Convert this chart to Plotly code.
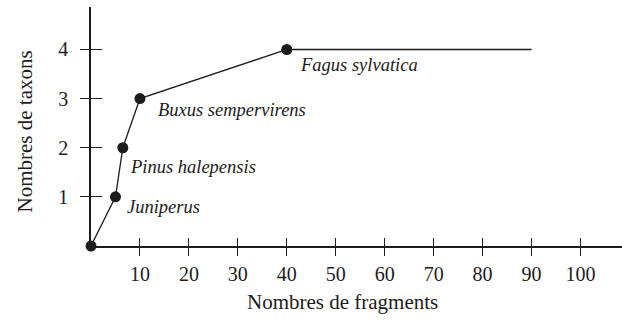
import plotly.graph_objects as go

# Accumulation curve: number of taxa vs number of charcoal fragments
fragments = [0, 5, 6.5, 10, 40, 90]
taxons = [0, 1, 2, 3, 4, 4]
taxon_names = ["", "Juniperus", "Pinus halepensis", "Buxus sempervirens", "Fagus sylvatica", ""]
x_ticks = [10, 20, 30, 40, 50, 60, 70, 80, 90, 100]
y_ticks = [1, 2, 3, 4]

INK = "#1e1b1c"
SERIF = "Liberation Serif"

W, H = 622, 320
L, R, T, B = 91, 0, 6.5, 73.5

# dots on every recorded step; the plateau end has no dot
marker_sizes = [11 if name or i == 0 else 0 for i, name in enumerate(taxon_names)]

fig = go.Figure()
fig.add_trace(go.Scatter(
    x=fragments, y=taxons, mode="lines+markers",
    line=dict(color=INK, width=1.3),
    marker=dict(color=INK, size=marker_sizes, opacity=1,
                line=dict(width=0)),
    cliponaxis=False, hoverinfo="skip", showlegend=False,
))
# invisible trace so the overlay axes (inner half of the crossing ticks) render
fig.add_trace(go.Scatter(x=[0], y=[0], xaxis="x2", yaxis="y2", mode="markers",
                         marker=dict(size=0, opacity=0), showlegend=False,
                         hoverinfo="skip"))

# label offsets (px) relative to each point
offsets = {
    "Juniperus": (9.5, -10.5),
    "Pinus halepensis": (5.5, -19),
    "Buxus sempervirens": (16.5, -11.5),
    "Fagus sylvatica": (11, -16),
}
annotations = []
for x, y, name in zip(fragments, taxons, taxon_names):
    if not name:
        continue
    dx, dy = offsets[name]
    annotations.append(dict(
        x=x, y=y, xref="x", yref="y", text=f"<i>{name}</i>", showarrow=False,
        xanchor="left", yanchor="middle", xshift=dx, yshift=dy,
        font=dict(family=SERIF, size=18.5, color=INK),
    ))

plot_w = W - L - R
plot_h = H - T - B
annotations.append(dict(
    text="Nombres de fragments", xref="paper", yref="paper",
    x=(342 - L) / plot_w, y=-(302.5 - (H - B)) / plot_h,
    xanchor="center", yanchor="middle", showarrow=False,
    font=dict(family=SERIF, size=21, color=INK),
))
annotations.append(dict(
    text="Nombres de taxons", xref="paper", yref="paper",
    x=(25 - L) / plot_w, y=((H - B) - 131.5) / plot_h,
    xanchor="center", yanchor="middle", showarrow=False, textangle=-90,
    font=dict(family=SERIF, size=21, color=INK),
))

x_range = [0, (W - L) / 4.895]
y_range = [0, 4.865]

axis_common = dict(showgrid=False, zeroline=False, tickcolor=INK, tickwidth=1.4)

fig.update_layout(
    width=W, height=H,
    margin=dict(l=L, r=R, t=T, b=B),
    paper_bgcolor="white", plot_bgcolor="white",
    showlegend=False,
    annotations=annotations,
    xaxis=dict(range=x_range, tickvals=x_ticks, ticks="outside", ticklen=8,
               showline=True, linecolor=INK, linewidth=1.5,
               ticklabelstandoff=1,
               tickfont=dict(family=SERIF, size=20, color=INK), **axis_common),
    yaxis=dict(range=y_range, tickvals=y_ticks, ticks="outside", ticklen=9,
               showline=True, linecolor=INK, linewidth=1.5,
               ticklabelstandoff=8,
               tickfont=dict(family=SERIF, size=20, color=INK), **axis_common),
    xaxis2=dict(overlaying="x", matches="x", anchor="y", side="bottom",
                tickvals=x_ticks, ticks="inside", ticklen=8,
                showticklabels=False, showline=False, **axis_common),
    yaxis2=dict(overlaying="y", matches="y", anchor="x", side="left",
                tickvals=y_ticks, ticks="inside", ticklen=11,
                showticklabels=False, showline=False, **axis_common),
)

fig.write_html("out.html")
